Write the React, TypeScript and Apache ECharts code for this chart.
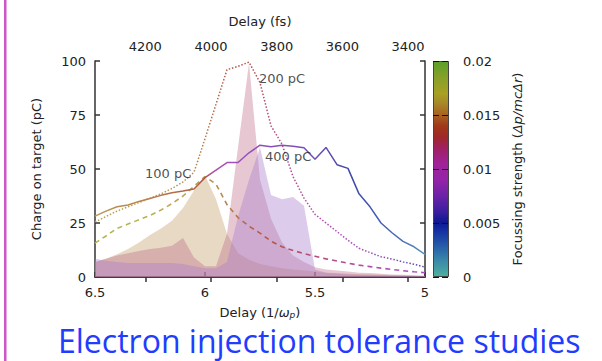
import React, { useEffect, useRef } from "react";
import * as echarts from "echarts";

// ---- data ----
const delays = [6.5, 6.45, 6.4, 6.35, 6.3, 6.25, 6.2, 6.15, 6.1, 6.05, 6.0, 5.95, 5.9, 5.85, 5.8, 5.75, 5.7, 5.65, 5.6, 5.55, 5.5, 5.45, 5.4, 5.35, 5.3, 5.25, 5.2, 5.15, 5.1, 5.05, 5.0];

const charge100pC = [15.7, 19, 22.5, 24.5, 26.5, 28.5, 31, 34, 37.5, 42, 46.5, 43, 33.5, 27.5, 23.5, 20.3, 16.6, 14, 12.3, 10.8, 9.6, 8.4, 7.4, 6.4, 5.5, 4.8, 4.1, 3.5, 2.9, 2.4, 2.0];
const charge200pC = [25.5, 28, 30.5, 32.5, 34.5, 36.5, 38.5, 41, 44, 48.5, 64, 80, 96, 97.5, 99.5, 90, 70, 61.5, 46.5, 36.5, 29, 25, 21, 17, 13.3, 11.3, 9.4, 8.3, 7, 5.9, 4.6];
const charge400pC = [28.2, 30.5, 32.5, 33.3, 35, 36.3, 37.8, 39, 39.8, 40.7, 46, 49.5, 53, 53, 57.5, 61, 60.3, 61, 60.5, 59.8, 54.5, 60, 52, 50.3, 38.5, 32.5, 25, 20.5, 16.5, 14, 10.5];

const shade100pC = [7, 8.5, 10.5, 13, 16, 19.5, 22.5, 26, 32, 40, 47, 36, 20, 11, 8, 6, 5, 4, 3.5, 3, 2.5, 2, 1.8, 1.5, 1.3, 1.1, 1, 0.8, 0.7, 0.6, 0.5];
const shade200pC = [7, 8.5, 10, 11, 12, 13, 13.5, 14.5, 18, 9, 5, 5, 20, 60, 99, 45, 27, 16, 10, 7, 4.5, 3.5, 3, 2.5, 2, 1.8, 1.5, 1.2, 1, 0.8, 0.6];
const shade400pC = [8.5, 7.5, 7, 6.5, 6.5, 6.5, 6.5, 6.5, 6, 5, 4, 4, 7, 28, 45, 60, 38, 36, 37, 33, 3.5, 2, 1.5, 1.2, 1, 0.9, 0.8, 0.7, 0.6, 0.5, 0.5];

const strength100pC = [0.0174, 0.0173, 0.0172, 0.0171, 0.017, 0.0169, 0.0168, 0.0166, 0.0164, 0.0162, 0.0159, 0.0155, 0.0151, 0.0146, 0.0142, 0.0138, 0.0133, 0.013, 0.0127, 0.0124, 0.0121, 0.0118, 0.0115, 0.0112, 0.0109, 0.0106, 0.0102, 0.0099, 0.0096, 0.0092, 0.0088];
const strength200pC = [0.0164, 0.0163, 0.0162, 0.0161, 0.016, 0.0159, 0.0158, 0.0157, 0.0155, 0.0153, 0.0149, 0.0143, 0.0137, 0.0133, 0.013, 0.0127, 0.0122, 0.0117, 0.0113, 0.011, 0.0105, 0.0101, 0.0098, 0.0093, 0.0088, 0.0083, 0.0078, 0.0072, 0.0066, 0.006, 0.0055];
const strength400pC = [0.0158, 0.0157, 0.0155, 0.0153, 0.0151, 0.0149, 0.0146, 0.0144, 0.0142, 0.014, 0.0132, 0.0098, 0.0088, 0.0083, 0.008, 0.0078, 0.0076, 0.0074, 0.0072, 0.0069, 0.0065, 0.006, 0.0056, 0.0051, 0.0047, 0.0044, 0.0041, 0.0037, 0.0033, 0.0027, 0.002];

const fsTicks = [3400, 3600, 3800, 4000, 4200];
const fsPerUnit = 669.7;

const annotations = [
  { text: "100 pC", delay: 6.273, charge: 48 },
  { text: "200 pC", delay: 5.755, charge: 92 },
  { text: "400 pC", delay: 5.727, charge: 55.7 },
];

const paletteStops: [number, string][] = [
  [0, "#4fb0a0"], [0.0015, "#3a88a8"], [0.003, "#2358a8"], [0.0045, "#1228a0"],
  [0.005, "#0c1890"], [0.006, "#3a1ea0"], [0.0075, "#6c22a8"], [0.009, "#9424a8"],
  [0.0105, "#a0229a"], [0.012, "#a02060"], [0.013, "#a02828"], [0.014, "#a03818"],
  [0.015, "#a86020"], [0.016, "#a88428"], [0.017, "#a8a024"], [0.0185, "#88a028"],
  [0.02, "#5aa02a"],
];
const strengthMax = 0.02;

// ---- helpers ----
const FONT = "DejaVu Sans";
function hexToRgb(h: string) {
  return [parseInt(h.slice(1, 3), 16), parseInt(h.slice(3, 5), 16), parseInt(h.slice(5, 7), 16)];
}
function colorFor(s: number, lighten: number) {
  let i = 0;
  while (i < paletteStops.length - 2 && s > paletteStops[i + 1][0]) i++;
  const [v0, c0] = paletteStops[i];
  const [v1, c1] = paletteStops[i + 1];
  const t = Math.max(0, Math.min(1, (s - v0) / (v1 - v0)));
  const a = hexToRgb(c0), b = hexToRgb(c1);
  const rgb = a.map((x, k) => x + (b[k] - x) * t).map((x) => Math.round(x + (255 - x) * lighten));
  return `rgb(${rgb[0]},${rgb[1]},${rgb[2]})`;
}
const pts = (vals: number[]) => delays.map((d, i) => [d, vals[i]]);
const colorsAscending = (str: number[]) => str.slice().reverse().map((s) => colorFor(s, 0.2));

const textBase = { color: "#222", fontFamily: FONT, fontSize: 13 };
const frameLine = { show: true, lineStyle: { color: "#333", width: 1.5 } };
const innerTick = { show: true, inside: true, length: 5, lineStyle: { color: "#333", width: 1.5 } };

export default function App() {
  const ref = useRef<HTMLDivElement>(null);
  useEffect(() => {
    const chart = echarts.init(ref.current!, null, { renderer: "svg" });
    const option: any = {
      animation: false,
      backgroundColor: "#fff",
      grid: [
        { left: 95, top: 61, width: 330, height: 216 },
        { left: 433, top: 61, width: 16, height: 216, show: false },
      ],
      xAxis: [
        {
          type: "value", gridIndex: 0, position: "bottom", min: 5, max: 6.5, inverse: true, interval: 0.5,
          axisLine: frameLine, axisTick: innerTick, splitLine: { show: false },
          axisLabel: { ...textBase, margin: 9 },
          name: "Delay (1/{w|ω}{s|p})", nameLocation: "middle", nameGap: 29,
          nameTextStyle: {
            ...textBase,
            rich: {
              w: { ...textBase, fontStyle: "italic" },
              s: { color: "#222", fontFamily: FONT, fontSize: 9, fontStyle: "italic", verticalAlign: "bottom" },
            },
          },
        },
        {
          type: "value", gridIndex: 0, position: "top", min: 5 * fsPerUnit, max: 6.5 * fsPerUnit, inverse: true,
          axisLine: frameLine, axisTick: { ...innerTick, customValues: fsTicks }, splitLine: { show: false },
          axisLabel: { ...textBase, margin: 8, customValues: fsTicks, formatter: (v: number) => String(Math.round(v)) },
          name: "Delay (fs)", nameLocation: "middle", nameGap: 33, nameTextStyle: textBase,
        },
        { type: "category", gridIndex: 1, data: ["s"], show: false },
      ],
      yAxis: [
        {
          type: "value", gridIndex: 0, position: "left", min: 0, max: 100, interval: 25,
          axisLine: frameLine, axisTick: innerTick, splitLine: { show: false },
          axisLabel: { ...textBase, margin: 9 },
          name: "Charge on target (pC)", nameLocation: "middle", nameGap: 52, nameRotate: 90, nameTextStyle: textBase,
        },
        {
          type: "value", gridIndex: 0, position: "right", min: 0, max: 100, interval: 25,
          axisLine: frameLine, axisTick: innerTick, splitLine: { show: false }, axisLabel: { show: false },
        },
        {
          type: "value", gridIndex: 1, position: "right", min: 0, max: strengthMax, interval: 0.005, z: 10,
          axisLine: { show: false }, axisTick: { show: false },
          splitLine: { show: true, lineStyle: { color: "#111", width: 1, type: [6, 3] } },
          axisLabel: { ...textBase, margin: 14 },
          name: "Focussing strength ({i|Δp/mcΔr})", nameLocation: "middle", nameGap: 62, nameRotate: 90,
          nameTextStyle: { ...textBase, rich: { i: { ...textBase, fontStyle: "italic" } } },
        },
      ],
      visualMap: [
        { type: "continuous", show: false, seriesIndex: 3, dimension: 0, min: 5, max: 6.5, inRange: { color: colorsAscending(strength100pC) } },
        { type: "continuous", show: false, seriesIndex: 4, dimension: 0, min: 5, max: 6.5, inRange: { color: colorsAscending(strength200pC) } },
        { type: "continuous", show: false, seriesIndex: 5, dimension: 0, min: 5, max: 6.5, inRange: { color: colorsAscending(strength400pC) } },
      ],
      series: [
        { type: "line", name: "shade100", data: pts(shade100pC), symbol: "none", silent: true, z: 1, lineStyle: { width: 0 }, areaStyle: { color: "rgba(200,165,115,0.42)", opacity: 1 } },
        { type: "line", name: "shade200", data: pts(shade200pC), symbol: "none", silent: true, z: 1, lineStyle: { width: 0 }, areaStyle: { color: "rgba(185,100,130,0.36)", opacity: 1 } },
        { type: "line", name: "shade400", data: pts(shade400pC), symbol: "none", silent: true, z: 1, lineStyle: { width: 0 }, areaStyle: { color: "rgba(170,125,205,0.40)", opacity: 1 } },
        { type: "line", name: "100 pC", data: pts(charge100pC), symbol: "none", z: 3, lineStyle: { width: 1.6, type: [5, 4] } },
        { type: "line", name: "200 pC", data: pts(charge200pC), symbol: "none", z: 3, lineStyle: { width: 1.5, type: [1.5, 1.8] } },
        { type: "line", name: "400 pC", data: pts(charge400pC), symbol: "none", z: 3, lineStyle: { width: 1.5 } },
        {
          type: "scatter", name: "labels", symbolSize: 0, silent: true, z: 5,
          data: annotations.map((a) => [a.delay, a.charge, a.text]),
          label: { show: true, position: "right", distance: 0, formatter: (p: any) => p.value[2], ...textBase },
        },
        {
          type: "bar", name: "colorbar", xAxisIndex: 2, yAxisIndex: 2, data: [strengthMax], barWidth: "100%", silent: true,
          itemStyle: {
            color: new echarts.graphic.LinearGradient(0, 1, 0, 0, paletteStops.map(([v, c]) => ({ offset: v / strengthMax, color: c }))),
            borderColor: "#444", borderWidth: 1,
          },
        },
      ],
      graphic: [
        { type: "rect", left: 4, top: 0, shape: { width: 2.5, height: 361 }, style: { fill: "#d055c5" }, silent: true },
        {
          type: "text", left: 58, top: 324, silent: true,
          style: { text: "Electron injection tolerance studies", fill: "#1f3cff", fontSize: 32, lineHeight: 24, fontFamily: "Open Sans" },
        },
      ],
    };
    chart.setOption(option);
    return () => chart.dispose();
  }, []);
  return <div ref={ref} style={{ position: "fixed", left: 0, top: 0, width: 602, height: 361, background: "#fff" }} />;
}
